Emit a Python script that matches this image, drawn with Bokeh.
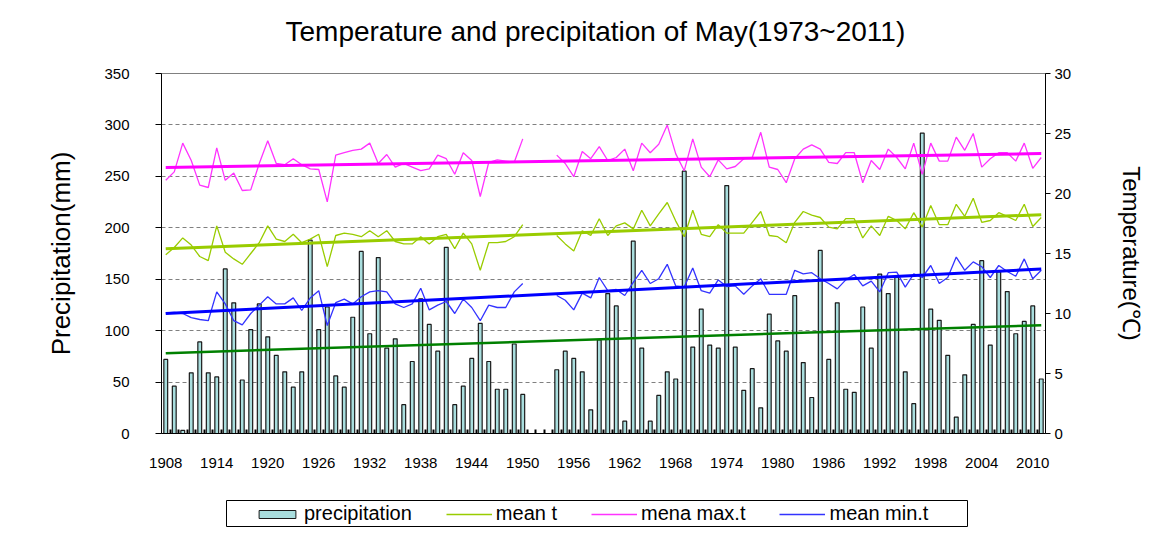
import numpy as np
from bokeh.plotting import figure
from bokeh.models import (Range1d, LinearAxis, FixedTicker, Legend, LegendItem,
                          ColumnDataSource, Spacer)
from bokeh.layouts import column, row
from bokeh.embed import file_html
from bokeh.resources import INLINE

nan = float("nan")

years = list(range(1908, 2012))

precipitation = [
    72, 46, 3, 59, 89, 59, 55, 160, 127, 52,          # 1908-1917
    101, 126, 94, 76, 60, 45, 60, 188, 101, 123,      # 1918-1927
    56, 45, 113, 177, 97, 171, 83, 92, 28, 70,        # 1928-1937
    131, 106, 80, 181, 28, 46, 73, 107, 70, 43,       # 1938-1947
    43, 87, 38, nan, nan, nan, 62, 80, 73, 60,        # 1948-1957
    23, 91, 136, 124, 12, 187, 83, 12, 37, 60,        # 1958-1967
    53, 255, 84, 121, 86, 83, 241, 84, 42, 63,        # 1968-1977
    25, 116, 90, 80, 134, 69, 35, 178, 72, 127,       # 1978-1987
    43, 40, 123, 83, 155, 136, 152, 60, 29, 292,      # 1988-1997
    121, 110, 76, 16, 57, 106, 168, 86, 157, 138,     # 1998-2007
    97, 109, 124, 53,                                 # 2008-2011
]

mean_t = [
    14.9, 15.5, 16.3, 15.7, 14.75, 14.4, 17.3, 15.1, 14.55, 14.1,
    15.0, 15.9, 17.3, 16.2, 16.0, 16.6, 15.9, 16.2, 16.6, 13.9,
    16.5, 16.7, 16.6, 16.4, 16.9, 16.4, 16.9, 16.0, 15.8, 15.8,
    16.4, 15.8, 16.4, 16.6, 15.4, 16.7, 15.8, 13.6, 15.9, 15.9,
    16.0, 16.4, 17.4, nan, nan, nan, 16.5, 15.8, 15.2, 16.9,
    16.5, 17.9, 16.5, 17.3, 17.55, 17.05, 18.6, 17.3, 18.3, 19.25,
    17.7, 16.4, 18.6, 16.6, 16.4, 17.4, 16.7, 16.7, 16.7, 17.6,
    18.5, 16.5, 16.4, 15.9, 17.6, 18.5, 18.2, 18.0, 17.2, 17.05,
    17.9, 17.9, 16.3, 17.3, 16.5, 18.1, 17.75, 17.05, 18.4, 17.2,
    19.0, 17.4, 17.4, 19.1, 18.1, 19.6, 17.6, 17.75, 18.4, 18.1,
    17.75, 19.1, 17.25, 18.0,
]

max_t = [
    21.1, 21.8, 24.2, 22.75, 20.7, 20.5, 23.8, 21.1, 21.7, 20.25,
    20.3, 22.5, 24.4, 22.5, 22.4, 22.9, 22.4, 22.05, 22.0, 19.3,
    23.2, 23.4, 23.6, 23.7, 24.2, 22.5, 23.25, 22.2, 22.5, 22.2,
    21.9, 22.05, 23.2, 22.9, 21.6, 23.4, 22.75, 19.75, 22.6, 22.8,
    22.7, 22.6, 24.55, nan, nan, nan, 23.2, 22.5, 21.4, 23.5,
    22.9, 23.9, 22.75, 23.0, 23.7, 21.9, 24.2, 23.4, 24.1, 25.7,
    23.3, 21.9, 24.55, 22.2, 21.4, 22.8, 22.05, 22.25, 22.9, 23.0,
    25.1, 22.2, 22.0, 20.9, 22.9, 23.7, 24.05, 23.7, 22.6, 22.5,
    23.4, 23.4, 20.9, 22.75, 22.0, 23.7, 23.0, 22.05, 24.2, 21.6,
    24.2, 22.7, 22.7, 24.7, 23.6, 25.0, 22.2, 22.9, 23.4, 23.4,
    22.7, 24.2, 22.1, 23.0,
]

min_t = [
    10.05, 10.1, 10.0, 9.65, 9.5, 9.4, 11.8, 10.8, 9.4, 9.05,
    10.0, 10.7, 11.4, 10.8, 10.8, 11.3, 10.25, 11.3, 11.9, 9.0,
    10.9, 11.2, 10.8, 11.4, 11.8, 11.9, 11.8, 10.8, 10.5, 10.8,
    12.1, 10.3, 10.7, 11.0, 10.0, 11.2, 10.5, 9.4, 10.7, 10.5,
    10.5, 11.8, 12.5, nan, nan, nan, 11.5, 11.1, 10.3, 11.7,
    11.3, 13.0, 11.9, 12.0, 11.5, 12.6, 13.6, 12.5, 12.9, 14.1,
    12.3, 12.2, 13.8, 11.9, 11.7, 12.8, 12.25, 12.3, 11.6, 12.3,
    12.9, 11.6, 11.6, 11.6, 13.6, 13.3, 13.4, 12.9, 12.5, 12.05,
    12.8, 13.25, 12.3, 12.7, 11.8, 13.4, 13.45, 12.2, 13.3, 13.0,
    14.0, 12.5, 13.0, 14.7, 13.6, 14.3, 13.9, 13.0, 14.0, 13.5,
    13.1, 14.55, 12.9, 13.6,
]

x_tick_years = list(range(1908, 2011, 6))
left_ticks = [0, 50, 100, 150, 200, 250, 300, 350]
right_ticks = [0, 5, 10, 15, 20, 25, 30]

title_text = "Temperature and precipitation of May(1973~2011)"
legend_labels = ["precipitation", "mean t", "mena max.t", "mean min.t"]

FONT = "Liberation Sans"
BAR_FILL = "#A9DEDE"
BAR_LINE = "#1a1a1a"
C_MEAN = "#99CC00"
C_MAX = "#FF33FF"
C_MIN = "#3333FF"
C_MAX_TR = "#FF00FF"
C_MIN_TR = "#0000FF"
C_PR_TR = "#008000"


def trend(vals):
    yr = np.array(years, dtype=float)
    v = np.array(vals, dtype=float)
    ok = ~np.isnan(v)
    a, b = np.polyfit(yr[ok], v[ok], 1)
    xs = [years[0], years[-1]]
    return xs, [a * xs[0] + b, a * xs[1] + b]


# ---- title strip (own small figure) ----
tf = figure(width=1150, height=64, x_range=Range1d(0, 1), y_range=Range1d(0, 1),
            output_backend="svg", toolbar_location=None, min_border=0,
            x_axis_type=None, y_axis_type=None, title=title_text)
tf.xgrid.visible = False
tf.ygrid.visible = False
tf.outline_line_color = None
tf.scatter(x=[5], y=[5], size=1)
tf.title.text_font = FONT
tf.title.text_font_size = "28px"
tf.title.text_font_style = "normal"
tf.title.text_color = "#000000"
tf.title.align = "left"
tf.title.offset = 124
tf.title.vertical_align = "top"
tf.title.standoff = 30

# ---- main chart ----
p = figure(frame_width=884, frame_height=360,
           x_range=Range1d(1907.5, 2011.5), y_range=Range1d(0, 350),
           output_backend="svg", toolbar_location=None,
           min_border_left=161, min_border_right=105,
           min_border_top=9, min_border_bottom=62)
p.extra_y_ranges = {"temp": Range1d(0, 30)}

p.outline_line_color = "#808080"
p.xgrid.visible = False
p.ygrid.ticker = FixedTicker(ticks=left_ticks)
p.ygrid.grid_line_color = "#808080"
p.ygrid.grid_line_dash = "4 3"
p.ygrid.grid_line_width = 1

src = ColumnDataSource(dict(year=years, prcp=precipitation))
p.vbar(x="year", top="prcp", width=0.45, source=src,
       fill_color=BAR_FILL, line_color=BAR_LINE, line_width=1.2)

p.line(years, mean_t, y_range_name="temp", line_color=C_MEAN, line_width=1.3)
p.line(years, max_t, y_range_name="temp", line_color=C_MAX, line_width=1.3)
p.line(years, min_t, y_range_name="temp", line_color=C_MIN, line_width=1.3)

tx, ty = trend(max_t)
p.line(tx, ty, y_range_name="temp", line_color=C_MAX_TR, line_width=3)
tx, ty = trend(mean_t)
p.line(tx, ty, y_range_name="temp", line_color=C_MEAN, line_width=3)
tx, ty = trend(min_t)
p.line(tx, ty, y_range_name="temp", line_color=C_MIN_TR, line_width=3)
tx, ty = trend(precipitation)
p.line(tx, ty, line_color=C_PR_TR, line_width=2.5)

# x axis
xa = p.xaxis[0]
xa.ticker = FixedTicker(ticks=x_tick_years,
                        minor_ticks=[y + 0.5 for y in years[:-1]])
xa.major_tick_in = 0
xa.major_tick_out = 0
xa.minor_tick_in = 4
xa.minor_tick_out = 0
xa.minor_tick_line_color = "#000000"
xa.minor_tick_line_width = 2
xa.axis_line_color = "#000000"
xa.major_label_text_font = FONT
xa.major_label_text_font_size = "15px"
xa.major_label_text_color = "#000000"
xa.major_label_standoff = 24

# left axis
ya = p.yaxis[0]
ya.ticker = FixedTicker(ticks=left_ticks)
ya.axis_line_color = "#000000"
ya.major_tick_out = 6
ya.major_tick_in = 0
ya.minor_tick_out = 0
ya.minor_tick_in = 0
ya.major_label_text_font = FONT
ya.major_label_text_font_size = "15px"
ya.major_label_text_color = "#000000"
ya.major_label_standoff = 26
ya.axis_label = "Precipitation(mm)"
ya.axis_label_text_font = FONT
ya.axis_label_text_font_size = "26px"
ya.axis_label_text_font_style = "normal"
ya.axis_label_text_color = "#000000"
ya.axis_label_standoff = 25

# right axis
ra = LinearAxis(y_range_name="temp", ticker=FixedTicker(ticks=right_ticks))
ra.axis_line_color = "#000000"
ra.major_tick_out = 5
ra.major_tick_in = 0
ra.minor_tick_out = 0
ra.minor_tick_in = 0
ra.major_label_text_font = FONT
ra.major_label_text_font_size = "15px"
ra.major_label_text_color = "#000000"
ra.major_label_standoff = 4
ra.axis_label = "Temperature(\u2103)"
ra.axis_label_text_font = FONT
ra.axis_label_text_font_size = "24px"
ra.axis_label_text_font_style = "normal"
ra.axis_label_text_color = "#000000"
ra.axis_label_standoff = 44
p.add_layout(ra, "right")

# ---- legend box as its own small figure ----
lf = figure(width=742, height=27, x_range=Range1d(0, 1), y_range=Range1d(0, 1),
            output_backend="svg", toolbar_location=None, min_border=0,
            x_axis_type=None, y_axis_type=None)
lf.xgrid.visible = False
lf.ygrid.visible = False
lf.outline_line_color = "#000000"
lf.outline_line_width = 1
r1 = lf.vbar(x=[5], top=[5], width=0.5, fill_color=BAR_FILL, line_color=BAR_LINE)
r2 = lf.line(x=[5, 6], y=[5, 5], line_color=C_MEAN, line_width=1.3)
r3 = lf.line(x=[5, 6], y=[5, 5], line_color=C_MAX, line_width=1.3)
r4 = lf.line(x=[5, 6], y=[5, 5], line_color=C_MIN, line_width=1.3)
leg = Legend(items=[LegendItem(label=legend_labels[0], renderers=[r1]),
                    LegendItem(label=legend_labels[1], renderers=[r2]),
                    LegendItem(label=legend_labels[2], renderers=[r3]),
                    LegendItem(label=legend_labels[3], renderers=[r4])],
             orientation="horizontal", location=(28, 2), padding=0,
             spacing=34, glyph_width=46, glyph_height=10, label_standoff=4,
             border_line_alpha=0, background_fill_alpha=0, margin=0,
             label_text_font=FONT, label_text_font_size="20px",
             label_text_color="#000000")
lf.add_layout(leg, "center")

layout = column(tf, p, Spacer(height=5), row(Spacer(width=226), lf))
open("out.html", "w").write(file_html(layout, INLINE))
